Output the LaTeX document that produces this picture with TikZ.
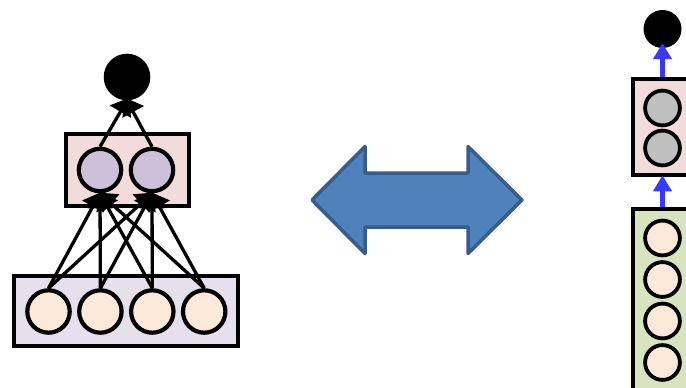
\documentclass[tikz,border=0pt]{standalone}
\usetikzlibrary{arrows.meta}
\definecolor{hidpink}{HTML}{F2DCDB}
\definecolor{hidpurple}{HTML}{CCC0DA}
\definecolor{inlav}{HTML}{E5E0EC}
\definecolor{inpeach}{HTML}{FDE9D9}
\definecolor{ingreen}{HTML}{D7E4BD}
\definecolor{hidgray}{HTML}{BFBFBF}
\definecolor{arrblue}{HTML}{3838FF}
\definecolor{bigfill}{HTML}{4F81BD}
\definecolor{bigedge}{HTML}{385D8A}
\tikzset{
  layerbox/.style={draw=black, line width=4pt, rectangle, inner sep=0pt},
  unitL/.style={circle, draw=black, line width=4.2pt, minimum size=42.4pt, inner sep=0pt},
  unitR/.style={circle, draw=black, line width=3.8pt, minimum size=34.8pt, inner sep=0pt},
  outL/.style={circle, fill=black, minimum size=46.6pt, inner sep=0pt},
  outR/.style={circle, fill=black, minimum size=38pt, inner sep=0pt},
  conn/.style={line width=3.3pt, -{Triangle[width=24pt 0 1,length=16pt 0 1]}},
  bluearr/.style={arrblue, line width=5pt, -{Triangle[width=18pt 0 1,length=16pt 0 1]}},
}
\begin{document}
\begin{tikzpicture}[x=1pt,y=-1pt]
\useasboundingbox (0,0) rectangle (686,388);
\clip (0,0) rectangle (686,388);
% left network
\node[layerbox, fill=inlav, minimum width=224pt, minimum height=70pt] (inbox) at (126.4,310.5) {};
\node[layerbox, fill=hidpink, minimum width=123pt, minimum height=72pt] (hidbox) at (127,169.5) {};
\foreach \i/\x in {1/48.5,2/100.4,3/152.3,4/204.2}
  \node[unitL, fill=inpeach] (b\i) at (\x,311.5) {};
\node[unitL, fill=hidpurple] (p1) at (100,170) {};
\node[unitL, fill=hidpurple] (p2) at (152,170) {};
\node[outL] (out) at (127,77) {};
\foreach \i in {1,...,4}
  \foreach \j in {1,2}
    \draw[conn, shorten >=-1pt] (b\i.north) -- (p\j.south);
\draw[conn, shorten >=-3pt] (p1.north) -- (out.south);
\draw[conn, shorten >=-3pt] (p2.north) -- (out.south);
% double arrow
\draw[fill=bigfill, draw=bigedge, line width=3.5pt, line join=round]
  (312,200) -- (365,146.5) -- (365,173) -- (468,173) -- (468,146.5) -- (522,200)
  -- (468,253.5) -- (468,227) -- (365,227) -- (365,253.5) -- cycle;
% right network
\node[layerbox, fill=ingreen, minimum width=58.4pt, minimum height=181pt] (inbox2) at (662.5,299.5) {};
\node[layerbox, fill=hidpink, minimum width=58.4pt, minimum height=96pt] (hidbox2) at (662.5,127) {};
\foreach \i/\y in {1/238,2/279.5,3/321,4/362.5}
  \node[unitR, fill=inpeach] (r\i) at (662.5,\y) {};
\node[unitR, fill=hidgray] (g1) at (662.5,108) {};
\node[unitR, fill=hidgray] (g2) at (662.5,148) {};
\node[outR] (out2) at (662.5,29) {};
\draw[bluearr, shorten >=-1.7pt] (inbox2.north) -- (hidbox2.south);
\draw[bluearr, shorten >=-5pt] (hidbox2.north) -- (out2.south);
\end{tikzpicture}
\end{document}
